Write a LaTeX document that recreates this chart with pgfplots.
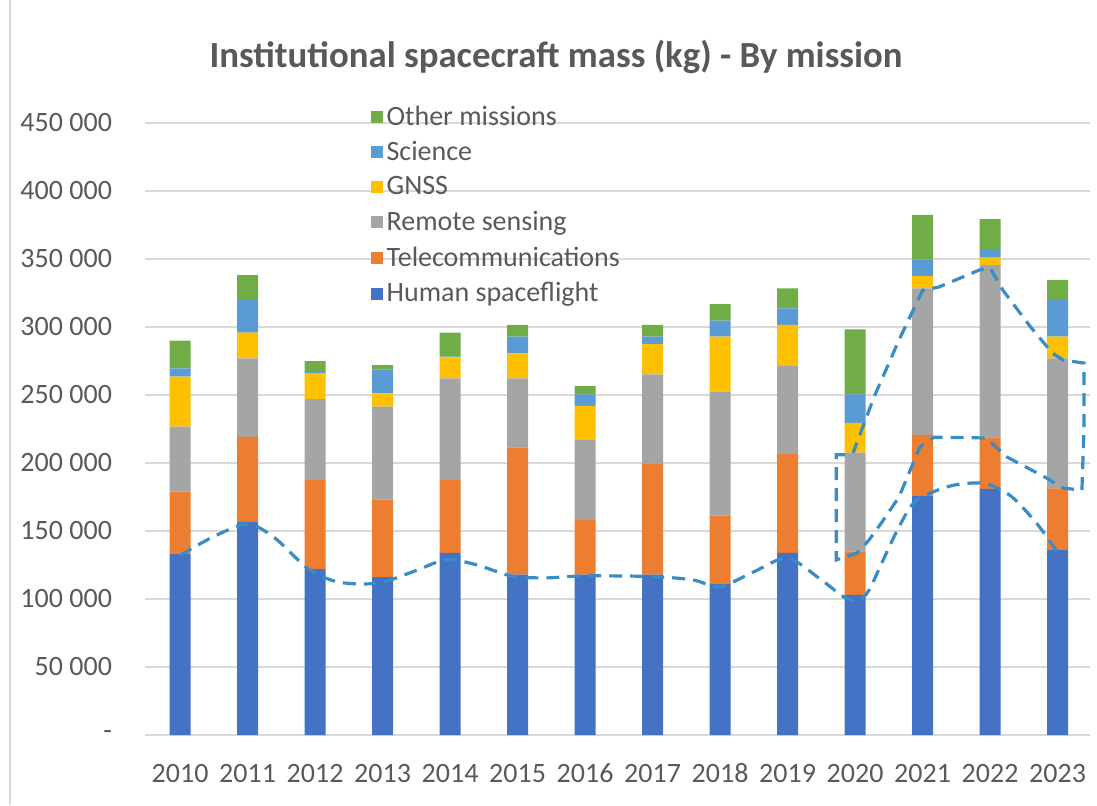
\documentclass[border=0pt]{standalone}
\usepackage{pgfplots}
\pgfplotsset{compat=1.18}
\usepackage{pgfplotstable}
\usepackage{fontspec}
\setmainfont{Carlito}

\definecolor{cH}{HTML}{4472C4}
\definecolor{cT}{HTML}{ED7D31}
\definecolor{cR}{HTML}{A5A5A5}
\definecolor{cG}{HTML}{FFC000}
\definecolor{cS}{HTML}{5B9BD5}
\definecolor{cO}{HTML}{70AD47}
\definecolor{dashC}{HTML}{3A8CC4}
\definecolor{gridgray}{HTML}{D9D9D9}
\definecolor{labelgray}{HTML}{595959}

\pgfplotstableread{
x H T R G S O
0 133000 46000 47700 36800 6100 20400
1 157000 62300 57700 18800 24000 18400
2 122000 65500 59500 19000 1000 8000
3 116000 57300 68100 9800 17700 3100
4 134000 53500 74800 15400 600 17600
5 118000 93500 50800 18300 12300 8600
6 118000 40000 59400 24600 8500 6100
7 118000 81800 65400 22300 5400 8600
8 111500 49800 91100 40500 11800 12200
9 134000 72600 64700 30200 12200 14700
10 103000 32000 72600 22000 20900 47800
11 175700 44900 107800 9100 12300 32600
12 181000 37900 126700 5400 5600 22800
13 136500 44900 95600 15900 26900 14800
}\data

\pgfplotsset{
  common/.style={
    scale only axis,
    width=472.5pt, height=306pt,
    at={(72.5pt,35pt)}, anchor=south west,
    xmin=-0.52, xmax=13.48,
    ymin=0, ymax=450000,
  },
  dashline/.style={dashC, line width=1.6pt, dash pattern=on 6.5pt off 4pt},
}

\begin{document}
\begin{tikzpicture}
\path[use as bounding box] (0,0) rectangle (548.5pt,402.5pt);
\draw[gridgray, line width=0.8pt] (5pt,0) -- (5pt,402.5pt);
\begin{axis}[
  common,
  ybar stacked,
  bar width=10.5pt,
  axis line style={draw=none},
  tick style={draw=none},
  scaled y ticks=false,
  ymajorgrids,
  major grid style={color=gridgray, line width=0.9pt},
  xtick={0,...,13},
  xticklabels={2010,2011,2012,2013,2014,2015,2016,2017,2018,2019,2020,2021,2022,2023},
  ytick={0,50000,100000,150000,200000,250000,300000,350000,400000,450000},
  yticklabels={-,50 000,100 000,150 000,200 000,250 000,300 000,350 000,400 000,450 000},
  ticklabel style={font=\fontsize{14}{16}\selectfont, text=labelgray},
  yticklabel style={xshift=-13pt},
  xticklabel style={yshift=-11pt, text height=9pt, text depth=0pt, anchor=north},
  title={Institutional spacecraft mass (kg) - By mission},
  title style={at={(0.435,1.088)}, anchor=center, font=\bfseries\fontsize{18.4}{21}\selectfont, text=labelgray},
  reverse legend,
  legend cell align=left,
  legend style={at={(0.232,1.042)}, anchor=north west, draw=none, fill=none,
    font=\fontsize{14}{16}\selectfont, text=labelgray, row sep=2.6pt},
  legend image code/.code={\fill[#1] (-2.5pt,-3pt) rectangle (3.5pt,3pt);},
]
\addplot[fill=cH, draw=none] table[x=x, y=H] {\data};
\addplot[fill=cT, draw=none] table[x=x, y=T] {\data};
\addplot[fill=cR, draw=none] table[x=x, y=R] {\data};
\addplot[fill=cG, draw=none] table[x=x, y=G] {\data};
\addplot[fill=cS, draw=none] table[x=x, y=S] {\data};
\addplot[fill=cO, draw=none] table[x=x, y=O] {\data};
\legend{Human spaceflight, Telecommunications, Remote sensing, GNSS, Science, Other missions}
\end{axis}
\begin{axis}[common, hide axis, clip=false]
\addplot[dashline, smooth, tension=0.5] coordinates {
(0,132000)(0.5,146000)(1,155000)(1.4,145000)(1.9,122000)(2.3,113000)(2.7,111000)(3.05,113000)(3.5,121000)(3.95,129000)(4.4,125000)(4.9,117000)(5.4,115500)(6,117000)(7,116500)(7.6,114000)(8,109000)(8.5,120000)(9,130000)(9.5,114000)(9.85,101000)(10.05,99000)(10.2,106000)(10.4,127000)(10.65,153000)(10.9,172000)(11.4,183000)(11.9,185000)(12.3,176000)(12.7,155000)(13,134000)
};
\addplot[dashline] coordinates {
(9.85,206000)(9.72,206000)(9.72,128700)(10.03,133800)(10.2,143000)(10.39,156000)(10.65,175000)(10.96,211800)(11.17,219000)(11.94,218400)(12.25,204400)(12.81,189700)(13.08,181600)(13.36,180000)(13.39,224000)(13.39,273500)(13.08,275700)(12.92,280900)(12.6,300000)(12.19,327000)(12.0,343400)(11.84,341900)(11.24,329400)(11.0,327000)(10.65,290400)(10.28,248500)(9.97,207400)
};
\end{axis}
\end{tikzpicture}
\end{document}
